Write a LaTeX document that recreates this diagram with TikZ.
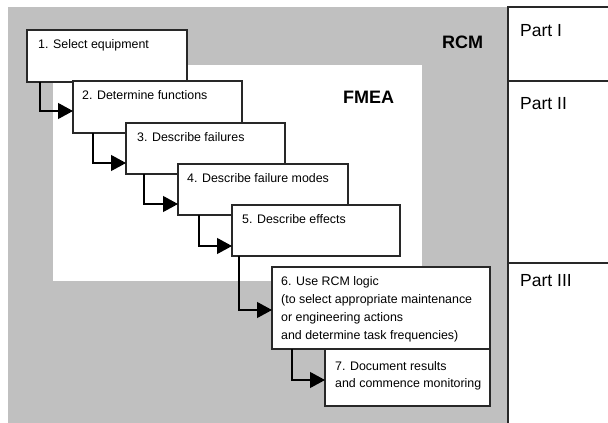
\documentclass[tikz,border=0pt]{standalone}
\usepackage{fontspec}
\setmainfont{Liberation Sans}
\usetikzlibrary{arrows.meta}
\definecolor{rcmgray}{RGB}{192,192,192}
\definecolor{edgecol}{RGB}{40,40,40}
\begin{document}
\begin{tikzpicture}[x=1pt,y=-1pt,
  stepbox/.style={draw=edgecol, line width=1.1pt, fill=white, anchor=north west, inner sep=0pt, outer sep=0pt},
  steptext/.style={anchor=north west, inner sep=0pt, align=left, font=\fontsize{12.4}{18}\selectfont},
  flow/.style={draw=black, line width=1.1pt, -{Triangle[length=15pt,width=16pt]}},
  partlabel/.style={anchor=west, inner sep=0pt, font=\fontsize{17.5}{21}\selectfont},
  regionlabel/.style={anchor=west, inner sep=0pt, font=\fontsize{18}{22}\selectfont\bfseries},
  divider/.style={draw=edgecol, line width=1.1pt}]
\useasboundingbox (0,0) rectangle (608,423);
% regions
\fill[rcmgray] (8,7) rectangle (508,423);
\fill[white] (53,65) rectangle (422,281);
% right column
\draw[divider] (608,7) -- (508,7) -- (508,423);
\draw[divider] (508,81) -- (608,81);
\draw[divider] (508,263) -- (608,263);
\node[partlabel] (p1) at (520,31) {Part I};
\node[partlabel] (p2) at (520,104) {Part II};
\node[partlabel] (p3) at (520,281) {Part III};
% region labels
\node[regionlabel] (rcm) at (442,42) {RCM};
\node[regionlabel] (fmea) at (343,97) {FMEA};
% boxes
\node[stepbox, minimum width=160pt, minimum height=52pt] (b1) at (27,30) {};
\node[stepbox, minimum width=169pt, minimum height=52pt] (b2) at (73,81) {};
\node[stepbox, minimum width=159pt, minimum height=51pt] (b3) at (126,123) {};
\node[stepbox, minimum width=170pt, minimum height=51pt] (b4) at (178,164) {};
\node[stepbox, minimum width=168pt, minimum height=51pt] (b5) at (232,205) {};
\node[stepbox, minimum width=218pt, minimum height=82pt] (b6) at (272,267) {};
\node[stepbox, minimum width=165pt, minimum height=57pt] (b7) at (325,349) {};
% texts
\node[steptext] (t1) at ([xshift=11pt,yshift=-9.5pt]b1.north west) {1. Select equipment};
\node[steptext] (t2) at ([xshift=9pt,yshift=-9.5pt]b2.north west) {2. Determine functions};
\node[steptext] (t3) at ([xshift=11pt,yshift=-9.5pt]b3.north west) {3. Describe failures};
\node[steptext] (t4) at ([xshift=9pt,yshift=-9.5pt]b4.north west) {4. Describe failure modes};
\node[steptext] (t5) at ([xshift=10pt,yshift=-9.5pt]b5.north west) {5. Describe effects};
\node[steptext] (t6) at ([xshift=9pt,yshift=-9.5pt]b6.north west) {6. Use RCM logic\\(to select appropriate maintenance\\or engineering actions\\and determine task frequencies)};
\node[steptext, font=\fontsize{12.4}{17}\selectfont] (t7) at ([xshift=10pt,yshift=-12pt]b7.north west) {7. Document results\\and commence monitoring};
% connectors
\draw[flow] ([xshift=13pt]b1.south west) |- ([yshift=22pt]b2.south west);
\draw[flow] ([xshift=20pt]b2.south west) |- ([yshift=11pt]b3.south west);
\draw[flow] ([xshift=18pt]b3.south west) |- ([yshift=11pt]b4.south west);
\draw[flow] ([xshift=21pt]b4.south west) |- ([yshift=10pt]b5.south west);
\draw[flow] ([xshift=7pt]b5.south west) |- ([yshift=39pt]b6.south west);
\draw[flow] ([xshift=20pt]b6.south west) |- ([yshift=26pt]b7.south west);
\end{tikzpicture}
\end{document}
